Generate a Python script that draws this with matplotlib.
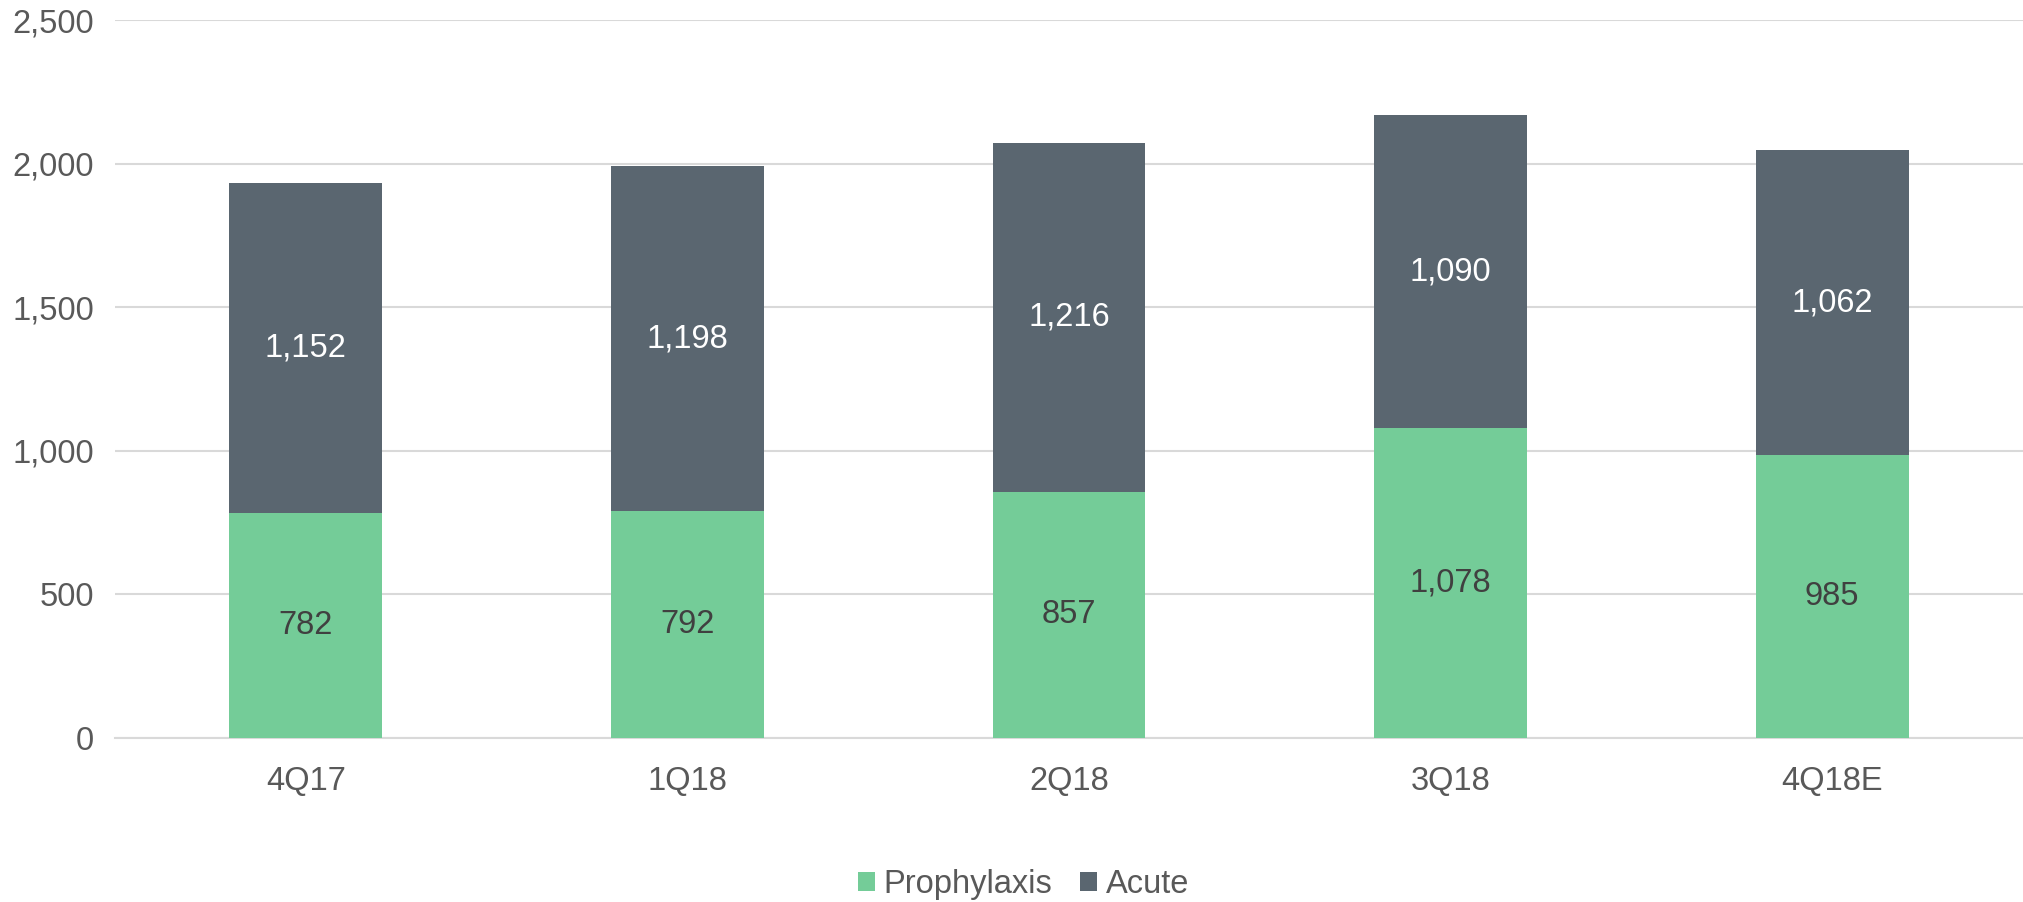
import matplotlib.pyplot as plt
import numpy as np

plt.rcParams['font.family'] = ['Liberation Sans', 'DejaVu Sans']

quarters = ['4Q17', '1Q18', '2Q18', '3Q18', '4Q18E']
prophylaxis = [782, 792, 857, 1078, 985]
acute = [1152, 1198, 1216, 1090, 1062]

green = '#74cc98'
slate = '#5a6670'
txt = '#595959'
fs = 23.5

fig = plt.figure(figsize=(20.23, 9.02), dpi=100)
ax = fig.add_axes([0.0568, 0.1818, 0.9432, 0.796])

x = np.arange(len(quarters))
b1 = ax.bar(x, prophylaxis, width=0.4, color=green, label='Prophylaxis', zorder=3)
b2 = ax.bar(x, acute, width=0.4, bottom=prophylaxis, color=slate, label='Acute', zorder=3)

for i in range(len(quarters)):
    ax.text(x[i], prophylaxis[i] / 2, f'{prophylaxis[i]:,}', ha='center', va='center',
            fontsize=fs, color='#404040', zorder=4)
    ax.text(x[i], prophylaxis[i] + acute[i] / 2, f'{acute[i]:,}', ha='center', va='center',
            fontsize=fs, color='white', zorder=4)

ax.set_xlim(-0.5, 4.5)
ax.set_ylim(0, 2500)
ax.set_yticks(range(0, 2501, 500))
ax.set_yticklabels([f'{v:,}' for v in range(0, 2501, 500)])
ax.set_xticks(x)
ax.set_xticklabels(quarters)
ax.tick_params(axis='both', length=0, labelsize=fs, colors=txt)
ax.tick_params(axis='y', pad=15)
ax.tick_params(axis='x', pad=20)

ax.yaxis.grid(True, color='#d9d9d9', linewidth=1.5, zorder=0)
for s in ['top', 'right', 'left']:
    ax.spines[s].set_visible(False)
ax.spines['bottom'].set_color('#d9d9d9')
ax.spines['bottom'].set_linewidth(1.5)

leg = fig.legend(handles=[b1, b2], loc='center', bbox_to_anchor=(0.506, 0.019), ncol=2,
                 frameon=False, fontsize=fs, handlelength=0.52, handleheight=0.52,
                 handletextpad=0.28, columnspacing=0.85)
for t in leg.get_texts():
    t.set_color(txt)

fig.savefig('out.png', dpi=100)
